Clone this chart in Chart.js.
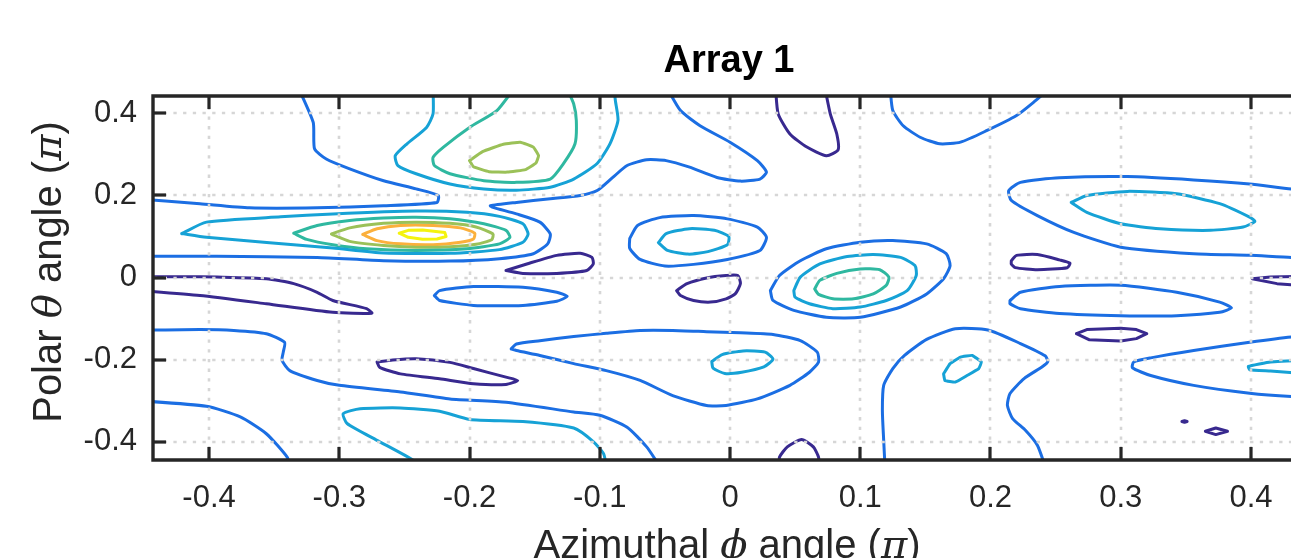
<!DOCTYPE html>
<html>
<head>
<meta charset="utf-8">
<script src="https://cdn.jsdelivr.net/npm/chart.js@4"></script>
<style>
html,body{margin:0;padding:0;overflow:hidden;background:#fff;}
canvas{display:block;}
</style>
</head>
<body>
<canvas id="c" width="1320" height="558"></canvas>
<script>
// ---- axis ticks ----
const xTickValues = [-0.4,-0.3,-0.2,-0.1,0,0.1,0.2,0.3,0.4];
const xTickLabels = ['-0.4','-0.3','-0.2','-0.1','0','0.1','0.2','0.3','0.4'];
const yTickValues = [-0.4,-0.2,0,0.2,0.4];
const yTickLabels = ['-0.4','-0.2','0','0.2','0.4'];

// ---- contour level colours (parula) ----
const levelColors = ['#38298f','#1b6ee3','#16a2d6','#2fb8a0','#9bc158','#fbb03c','#f4f30f'];

// ---- contour lines: [phi, theta] in units of pi ----
const c01 = [[-0.331,0.46],[-0.320,0.378],[-0.319,0.314],[-0.310,0.289],[-0.292,0.265],[-0.266,0.236],[-0.241,0.216],[-0.224,0.200],[-0.225,0.183],[-0.266,0.175],[-0.317,0.170],[-0.369,0.170],[-0.407,0.180],[-0.46,0.193]];
const c02 = [[-0.46,0.052],[-0.394,0.052],[-0.317,0.049],[-0.266,0.041],[-0.215,0.040],[-0.177,0.046],[-0.151,0.058],[-0.140,0.082],[-0.138,0.106],[-0.146,0.135],[-0.164,0.155],[-0.182,0.171],[-0.184,0.175],[-0.164,0.183],[-0.138,0.192],[-0.115,0.200],[-0.102,0.212],[-0.090,0.244],[-0.079,0.273],[-0.064,0.287],[-0.049,0.285],[-0.031,0.269],[-0.010,0.244],[0.008,0.235],[0.023,0.240],[0.028,0.257],[0.021,0.285],[0,0.330],[-0.023,0.370],[-0.038,0.407],[-0.048,0.46]];
const c03 = [[-0.228,0.46],[-0.228,0.399],[-0.233,0.366],[-0.248,0.326],[-0.257,0.297],[-0.255,0.273],[-0.241,0.253],[-0.215,0.228],[-0.189,0.216],[-0.164,0.213],[-0.138,0.220],[-0.120,0.240],[-0.102,0.278],[-0.092,0.327],[-0.086,0.383],[-0.088,0.431],[-0.089,0.46]];
const c04 = [[-0.166,0.46],[-0.179,0.407],[-0.200,0.366],[-0.220,0.318],[-0.228,0.293],[-0.227,0.273],[-0.215,0.253],[-0.189,0.236],[-0.164,0.232],[-0.138,0.240],[-0.128,0.277],[-0.119,0.326],[-0.118,0.383],[-0.120,0.423],[-0.125,0.46]];
const c05 = [[-0.200,0.285],[-0.190,0.307],[-0.174,0.325],[-0.161,0.330],[-0.151,0.318],[-0.147,0.297],[-0.149,0.279],[-0.157,0.263],[-0.171,0.257],[-0.185,0.258],[-0.197,0.270],[-0.200,0.285]];
const c06 = [[-0.421,0.107],[-0.402,0.135],[-0.345,0.148],[-0.305,0.155],[-0.241,0.162],[-0.202,0.159],[-0.177,0.149],[-0.159,0.131],[-0.155,0.106],[-0.159,0.086],[-0.177,0.068],[-0.215,0.059],[-0.266,0.060],[-0.305,0.072],[-0.402,0.098],[-0.421,0.107]];
const c07 = [[-0.335,0.108],[-0.317,0.127],[-0.292,0.139],[-0.266,0.145],[-0.241,0.147],[-0.215,0.143],[-0.189,0.131],[-0.172,0.115],[-0.169,0.098],[-0.177,0.082],[-0.202,0.070],[-0.241,0.066],[-0.279,0.070],[-0.305,0.080],[-0.325,0.093],[-0.335,0.108]];
const c08 = [[-0.306,0.106],[-0.292,0.121],[-0.266,0.132],[-0.241,0.135],[-0.215,0.132],[-0.195,0.123],[-0.182,0.106],[-0.183,0.092],[-0.195,0.081],[-0.215,0.075],[-0.241,0.074],[-0.266,0.078],[-0.292,0.088],[-0.306,0.106]];
const c09 = [[-0.282,0.105],[-0.271,0.119],[-0.253,0.127],[-0.228,0.127],[-0.207,0.121],[-0.196,0.108],[-0.197,0.094],[-0.207,0.086],[-0.228,0.080],[-0.253,0.082],[-0.271,0.090],[-0.282,0.105]];
const c10 = [[-0.254,0.108],[-0.247,0.115],[-0.236,0.116],[-0.219,0.110],[-0.218,0.100],[-0.225,0.094],[-0.236,0.093],[-0.247,0.098],[-0.254,0.108]];
const c11 = [[-0.46,0.002],[-0.420,0.002],[-0.394,0.001],[-0.356,-0.003],[-0.335,-0.015],[-0.317,-0.036],[-0.305,-0.056],[-0.279,-0.076],[-0.275,-0.087],[-0.305,-0.085],[-0.356,-0.064],[-0.407,-0.044],[-0.46,-0.030]];
const c12 = [[-0.46,-0.129],[-0.407,-0.127],[-0.381,-0.129],[-0.356,-0.137],[-0.342,-0.158],[-0.343,-0.182],[-0.344,-0.202],[-0.338,-0.227],[-0.317,-0.251],[-0.300,-0.263],[-0.253,-0.279],[-0.215,-0.296],[-0.172,-0.304],[-0.120,-0.328],[-0.100,-0.336],[-0.079,-0.365],[-0.064,-0.413],[-0.054,-0.46]];
const c13 = [[-0.46,-0.299],[-0.402,-0.314],[-0.376,-0.340],[-0.356,-0.381],[-0.340,-0.438],[-0.338,-0.46]];
const c14 = [[-0.241,-0.46],[-0.243,-0.446],[-0.271,-0.397],[-0.294,-0.356],[-0.297,-0.332],[-0.284,-0.320],[-0.253,-0.318],[-0.223,-0.326],[-0.200,-0.346],[-0.159,-0.351],[-0.120,-0.367],[-0.105,-0.400],[-0.097,-0.430],[-0.095,-0.46]];
const c15 = [[-0.271,-0.206],[-0.259,-0.201],[-0.241,-0.198],[-0.215,-0.207],[-0.197,-0.222],[-0.172,-0.243],[-0.163,-0.251],[-0.172,-0.261],[-0.197,-0.259],[-0.223,-0.247],[-0.253,-0.235],[-0.269,-0.219],[-0.271,-0.206]];
const c16 = [[-0.227,-0.044],[-0.223,-0.032],[-0.197,-0.022],[-0.159,-0.024],[-0.133,-0.036],[-0.125,-0.046],[-0.133,-0.058],[-0.159,-0.068],[-0.197,-0.068],[-0.223,-0.056],[-0.227,-0.044]];
const c17 = [[-0.172,0.017],[-0.156,0.033],[-0.133,0.054],[-0.115,0.059],[-0.106,0.049],[-0.105,0.033],[-0.110,0.017],[-0.133,0.010],[-0.159,0.010],[-0.172,0.017]];
const c18 = [[-0.077,0.095],[-0.071,0.127],[-0.054,0.146],[-0.028,0.151],[-0.002,0.143],[0.021,0.123],[0.028,0.098],[0.023,0.066],[-0.002,0.044],[-0.028,0.032],[-0.050,0.028],[-0.069,0.044],[-0.077,0.071],[-0.077,0.095]];
const c19 = [[-0.055,0.085],[-0.049,0.107],[-0.031,0.119],[-0.012,0.115],[-0.001,0.100],[-0.002,0.080],[-0.017,0.063],[-0.032,0.057],[-0.048,0.066],[-0.055,0.085]];
const c20 = [[-0.041,-0.032],[-0.033,-0.015],[-0.018,-0.001],[-0.003,0.005],[0.006,0.005],[0.008,-0.015],[0.004,-0.040],[-0.003,-0.052],[-0.015,-0.060],[-0.028,-0.056],[-0.038,-0.044],[-0.041,-0.032]];
const c21 = [[0.031,-0.032],[0.038,0.005],[0.054,0.041],[0.074,0.070],[0.100,0.086],[0.125,0.090],[0.151,0.082],[0.166,0.058],[0.169,0.029],[0.164,-0.003],[0.151,-0.040],[0.131,-0.072],[0.100,-0.097],[0.074,-0.097],[0.049,-0.080],[0.033,-0.056],[0.031,-0.032]];
const c22 = [[0.049,-0.032],[0.054,0.001],[0.069,0.033],[0.090,0.051],[0.110,0.056],[0.131,0.049],[0.142,0.029],[0.143,0.005],[0.136,-0.032],[0.120,-0.056],[0.100,-0.072],[0.079,-0.076],[0.061,-0.064],[0.050,-0.048],[0.049,-0.032]];
const c23 = [[0.065,-0.028],[0.069,-0.007],[0.082,0.010],[0.100,0.021],[0.115,0.019],[0.122,0.001],[0.120,-0.019],[0.110,-0.040],[0.095,-0.052],[0.079,-0.052],[0.068,-0.041],[0.065,-0.028]];
const c24 = [[0.035,0.46],[0.037,0.399],[0.046,0.350],[0.059,0.318],[0.074,0.297],[0.083,0.311],[0.082,0.350],[0.077,0.399],[0.073,0.46]];
const c25 = [[0.123,0.46],[0.125,0.407],[0.133,0.370],[0.146,0.342],[0.161,0.326],[0.177,0.330],[0.197,0.358],[0.220,0.395],[0.233,0.427],[0.245,0.46]];
const c26 = [[0.46,0.210],[0.431,0.216],[0.399,0.228],[0.356,0.238],[0.305,0.246],[0.253,0.243],[0.223,0.232],[0.214,0.212],[0.216,0.188],[0.236,0.151],[0.264,0.110],[0.300,0.074],[0.356,0.058],[0.399,0.054],[0.431,0.049],[0.46,0.048]];
const c27 = [[0.262,0.183],[0.274,0.200],[0.305,0.210],[0.343,0.204],[0.376,0.180],[0.399,0.147],[0.403,0.137],[0.394,0.123],[0.369,0.115],[0.330,0.119],[0.300,0.131],[0.274,0.159],[0.262,0.183]];
const c28 = [[0.216,0.041],[0.220,0.054],[0.236,0.056],[0.253,0.043],[0.261,0.035],[0.259,0.024],[0.236,0.019],[0.219,0.024],[0.216,0.033],[0.216,0.041]];
const c29 = [[0.46,0.004],[0.415,0.001],[0.401,-0.003],[0.420,-0.015],[0.46,-0.025]];
const c30 = [[0.215,-0.056],[0.223,-0.036],[0.253,-0.022],[0.300,-0.019],[0.343,-0.036],[0.376,-0.060],[0.385,-0.074],[0.376,-0.085],[0.343,-0.093],[0.300,-0.093],[0.253,-0.088],[0.223,-0.076],[0.215,-0.064],[0.215,-0.056]];
const c31 = [[0.266,-0.137],[0.274,-0.127],[0.300,-0.124],[0.312,-0.127],[0.320,-0.137],[0.312,-0.149],[0.300,-0.155],[0.276,-0.152],[0.266,-0.137]];
const c32 = [[0.46,-0.138],[0.431,-0.145],[0.399,-0.158],[0.356,-0.178],[0.323,-0.196],[0.310,-0.206],[0.309,-0.220],[0.323,-0.239],[0.356,-0.263],[0.399,-0.282],[0.431,-0.290],[0.46,-0.293]];
const c33 = [[0.46,-0.199],[0.415,-0.206],[0.398,-0.217],[0.399,-0.225],[0.415,-0.228],[0.46,-0.239]];
const c34 = [[0.365,-0.375],[0.373,-0.367],[0.382,-0.375],[0.373,-0.383],[0.365,-0.375]];
const c35 = [[0.347,-0.351],[0.349,-0.349],[0.351,-0.351],[0.349,-0.353],[0.347,-0.351]];
const c36 = [[0.119,-0.46],[0.118,-0.397],[0.117,-0.324],[0.118,-0.263],[0.125,-0.222],[0.134,-0.190],[0.151,-0.151],[0.173,-0.125],[0.198,-0.128],[0.223,-0.161],[0.242,-0.191],[0.244,-0.205],[0.240,-0.217],[0.226,-0.246],[0.215,-0.283],[0.213,-0.312],[0.217,-0.344],[0.227,-0.373],[0.236,-0.409],[0.242,-0.46]];
const c37 = [[0.164,-0.235],[0.169,-0.210],[0.177,-0.194],[0.186,-0.190],[0.193,-0.206],[0.191,-0.222],[0.182,-0.239],[0.173,-0.255],[0.165,-0.251],[0.164,-0.235]];
const c38 = [[-0.168,-0.174],[-0.164,-0.162],[-0.146,-0.154],[-0.120,-0.144],[-0.095,-0.136],[-0.069,-0.129],[-0.044,-0.129],[-0.018,-0.132],[0.008,-0.135],[0.033,-0.139],[0.054,-0.154],[0.067,-0.182],[0.068,-0.206],[0.061,-0.231],[0.046,-0.263],[0.021,-0.296],[-0.003,-0.312],[-0.018,-0.312],[-0.044,-0.288],[-0.069,-0.251],[-0.095,-0.227],[-0.120,-0.210],[-0.146,-0.190],[-0.164,-0.178],[-0.168,-0.174]];
const c39 = [[-0.014,-0.205],[-0.006,-0.188],[0.010,-0.179],[0.027,-0.182],[0.033,-0.199],[0.026,-0.218],[0.009,-0.231],[-0.004,-0.234],[-0.013,-0.221],[-0.014,-0.205]];
const c40 = [[0.038,-0.46],[0.038,-0.438],[0.044,-0.413],[0.055,-0.395],[0.064,-0.413],[0.068,-0.438],[0.068,-0.46]];

// contour -> level index
const contourLines = [c01,c02,c03,c04,c05,c06,c07,c08,c09,c10,c11,c12,c13,c14,c15,c16,c17,c18,c19,c20,c21,c22,c23,c24,c25,c26,c27,c28,c29,c30,c31,c32,c33,c34,c35,c36,c37,c38,c39,c40];
const contourLevels = [1,1,2,3,4,2,3,4,5,6,0,1,1,2,0,1,0,1,2,0,1,2,3,0,1,1,2,0,0,1,0,1,2,0,0,1,2,1,2,0];
const contourTension = [0.2,0.2,0.2,0.2,0.1,0.2,0.2,0.2,0.2,0,0.2,0.2,0.2,0.2,0.2,0.2,0.2,0.2,0.2,0.2,0.2,0.2,0.2,0.2,0.2,0.2,0.2,0.2,0,0.2,0,0.2,0.1,0,0,0.2,0.1,0.2,0.2,0.2];

const AX = 0.4438, AY = 0.445;

const datasets = contourLines.map((pts, i) => ({
  data: pts.map(p => ({x: p[0], y: p[1]})),
  showLine: true,
  borderColor: levelColors[contourLevels[i]],
  borderWidth: 3,
  pointRadius: 0,
  pointHoverRadius: 0,
  fill: false,
  tension: contourTension[i],
  borderJoinStyle: 'round',
  borderCapStyle: 'round'
}));

const SANS = '"Liberation Sans", Arial, Helvetica, sans-serif';
const SERIF_I = 'italic 40px "DejaVu Serif", "Liberation Serif", serif';

function drawSegments(ctx, segs, cx, baseline) {
  let total = 0;
  segs.forEach(s => { ctx.font = s.f; s.w = ctx.measureText(s.t).width; total += s.w; });
  let x = cx - total / 2;
  ctx.textAlign = 'left';
  ctx.textBaseline = 'alphabetic';
  segs.forEach(s => { ctx.font = s.f; ctx.fillText(s.t, x, baseline); x += s.w; });
}

const framePlugin = {
  id: 'matlabFrame',
  afterDatasetsDraw(chart) {
    const {ctx, chartArea: a, scales: {x, y}} = chart;
    ctx.save();
    // dotted grid on top of contours
    ctx.strokeStyle = '#d6d6d6';
    ctx.lineWidth = 2.6;
    ctx.setLineDash([3.3, 6.4]);
    xTickValues.forEach(v => {
      const px = Math.round(x.getPixelForValue(v));
      ctx.beginPath(); ctx.moveTo(px, a.top + 2); ctx.lineTo(px, a.bottom); ctx.stroke();
    });
    yTickValues.forEach(v => {
      const py = Math.round(y.getPixelForValue(v));
      ctx.beginPath(); ctx.moveTo(a.left + 2, py); ctx.lineTo(a.right, py); ctx.stroke();
    });
    ctx.setLineDash([]);
    // box
    ctx.strokeStyle = '#262626';
    ctx.lineWidth = 3.4;
    ctx.lineCap = 'square';
    ctx.beginPath();
    ctx.moveTo(a.left + 1, a.bottom); ctx.lineTo(a.left + 1, a.top + 1); ctx.lineTo(a.right - 1, a.top + 1);
    ctx.lineTo(a.right - 1, a.bottom); ctx.lineTo(a.left + 1, a.bottom);
    ctx.stroke();
    // inward tick marks
    ctx.lineCap = 'butt';
    ctx.lineWidth = 3.2;
    const L = 13;
    xTickValues.forEach(v => {
      const px = Math.round(x.getPixelForValue(v));
      ctx.beginPath(); ctx.moveTo(px, a.bottom); ctx.lineTo(px, a.bottom - L); ctx.stroke();
      ctx.beginPath(); ctx.moveTo(px, a.top + 1); ctx.lineTo(px, a.top + 1 + L); ctx.stroke();
    });
    yTickValues.forEach(v => {
      const py = Math.round(y.getPixelForValue(v));
      ctx.beginPath(); ctx.moveTo(a.left + 1, py); ctx.lineTo(a.left + 1 + L, py); ctx.stroke();
      ctx.beginPath(); ctx.moveTo(a.right - 1, py); ctx.lineTo(a.right - 1 - L, py); ctx.stroke();
    });
    ctx.restore();
  },
  afterDraw(chart) {
    const {ctx} = chart;
    ctx.save();
    ctx.fillStyle = '#000000';
    ctx.font = 'bold 38px ' + SANS;
    ctx.textAlign = 'center';
    ctx.textBaseline = 'alphabetic';
    ctx.fillText('Array 1', 729, 72);
    ctx.fillStyle = '#262626';
    const sans = '40px ' + SANS;
    drawSegments(ctx, [
      {t: 'Azimuthal ', f: sans}, {t: '\u03D5', f: SERIF_I}, {t: ' angle (', f: sans},
      {t: '\u03C0', f: SERIF_I}, {t: ')', f: sans}
    ], 727, 558);
    ctx.translate(61, 272);
    ctx.rotate(-Math.PI / 2);
    drawSegments(ctx, [
      {t: 'Polar ', f: sans}, {t: '\u03B8', f: SERIF_I}, {t: ' angle (', f: sans},
      {t: '\u03C0', f: SERIF_I}, {t: ')', f: sans}
    ], 0, 0);
    ctx.restore();
  }
};

new Chart(document.getElementById('c'), {
  type: 'scatter',
  data: {datasets},
  options: {
    responsive: false,
    devicePixelRatio: 1,
    animation: false,
    events: [],
    layout: {padding: {left: 0, right: 12, top: 95, bottom: 0}},
    plugins: {legend: {display: false}, tooltip: {enabled: false}, title: {display: false}},
    scales: {
      x: {
        type: 'linear', min: -AX, max: AX,
        grid: {display: false, drawTicks: false},
        border: {display: false},
        afterBuildTicks: s => { s.ticks = xTickValues.map(v => ({value: v})); },
        afterFit: s => { s.height = 98; },
        ticks: {
          padding: 20, color: '#262626', maxRotation: 0, autoSkip: false,
          font: {family: SANS, size: 31},
          callback: (v, i) => xTickLabels[i]
        }
      },
      y: {
        type: 'linear', min: -AY, max: AY,
        grid: {display: false, drawTicks: false},
        border: {display: false},
        afterBuildTicks: s => { s.ticks = yTickValues.map(v => ({value: v})); },
        afterFit: s => { s.width = 152; },
        ticks: {
          padding: 15, color: '#262626', autoSkip: false,
          font: {family: SANS, size: 31},
          callback: (v, i) => yTickLabels[i]
        }
      }
    }
  },
  plugins: [framePlugin]
});
</script>
</body>
</html>
